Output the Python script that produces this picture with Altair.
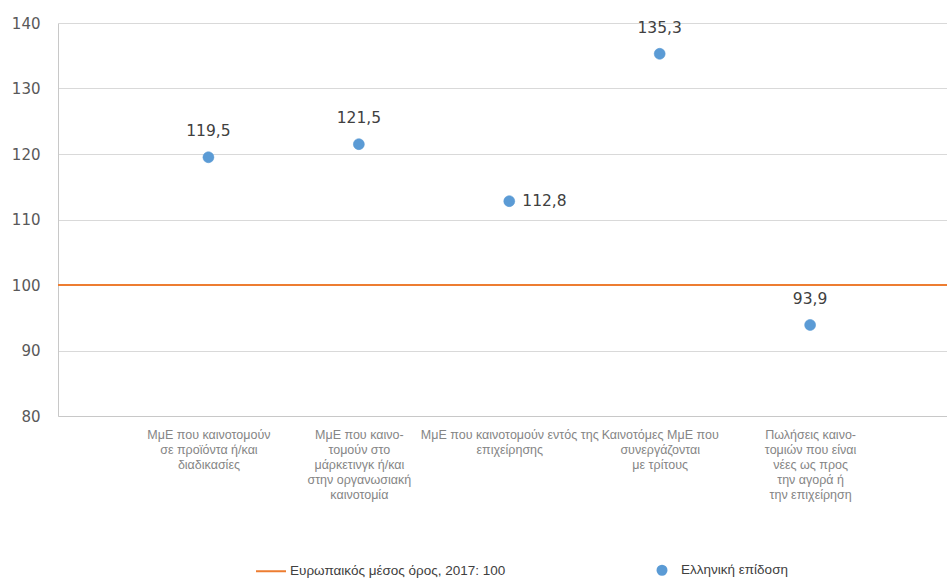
import json
import altair as alt
import pandas as pd

categories = [
    "ΜμΕ που καινοτομούν|σε προϊόντα ή/και|διαδικασίες",
    "ΜμΕ που καινο-|τομούν στο|μάρκετινγκ ή/και|στην οργανωσιακή|καινοτομία",
    "ΜμΕ που καινοτομούν εντός της|επιχείρησης",
    "Καινοτόμες ΜμΕ που|συνεργάζονται|με τρίτους",
    "Πωλήσεις καινο-|τομιών που είναι|νέες ως προς|την αγορά ή|την επιχείρηση",
]
greek_values = [119.5, 121.5, 112.8, 135.3, 93.9]
eu_average = 100
series_names = ["Ευρωπαικός μέσος όρος, 2017: 100", "Ελληνική επίδοση"]
y_ticks = [80, 90, 100, 110, 120, 130, 140]

ORANGE = "#ED7D31"
BLUE = "#5B9BD5"
FONT = "Liberation Sans"
NUM_FONT = "DejaVu Sans"

points = pd.DataFrame({
    "idx": list(range(1, len(categories) + 1)),
    "value": greek_values,
    "label": [f"{v:.1f}".replace(".", ",") for v in greek_values],
    "series": series_names[1],
})
rule_df = pd.DataFrame({"value": [eu_average], "series": [series_names[0]]})

label_array = json.dumps(categories, ensure_ascii=False)

x_enc = alt.X(
    "idx:Q",
    scale=alt.Scale(domain=[0, 5.91], nice=False, zero=False),
    axis=alt.Axis(
        values=list(range(1, len(categories) + 1)),
        labelExpr=f"split({label_array}[datum.value - 1], '|')",
        title=None, grid=False, ticks=False, labelPadding=12,
        labelFontSize=12.5, labelColor="#858585", labelLineHeight=15,
        labelLimit=0, labelFont=FONT, domainColor="#c8c8c8", labelFlush=False,
        labelOverlap=False,
    ),
)
y_scale = alt.Scale(domain=[80, 140], nice=False, zero=False)
y_axis = alt.Axis(
    values=y_ticks, title=None, ticks=False, labelPadding=18,
    labelFontSize=15, labelColor="#595959", labelFont=NUM_FONT,
    gridColor="#d9d9d9", domainColor="#c8c8c8",
)

stroke_scale = alt.Scale(domain=series_names, range=[ORANGE, BLUE])
fill_scale = alt.Scale(domain=series_names, range=[ORANGE, BLUE])
shape_scale = alt.Scale(
    domain=series_names,
    range=["M-1,0H1", "M-0.3,0A0.3,0.3 0 1,1 0.3,0A0.3,0.3 0 1,1 -0.3,0Z"],
)
legend = alt.Legend(
    title=None, orient="none", direction="horizontal", legendX=197, legendY=531,
    labelFontSize=13.5, labelColor="#404040", labelFont=FONT, symbolSize=900,
    symbolStrokeWidth=2, columnPadding=140, labelOffset=3, labelLimit=0,
)

rule = alt.Chart(rule_df).mark_rule(strokeWidth=2).encode(
    y=alt.Y("value:Q", scale=y_scale, axis=y_axis),
    stroke=alt.Stroke("series:N", scale=stroke_scale, legend=legend),
)

pts = alt.Chart(points).mark_point(filled=True, opacity=1, strokeWidth=0.5).encode(
    x=x_enc,
    y=alt.Y("value:Q", scale=y_scale, axis=y_axis),
    fill=alt.Fill("series:N", scale=fill_scale, legend=legend),
    stroke=alt.Stroke("series:N", scale=stroke_scale, legend=legend),
    shape=alt.Shape("series:N", scale=shape_scale, legend=legend),
    size=alt.value(1344),
)

text_style = dict(fontSize=15.5, color="#404040", font=NUM_FONT)
labels_above = alt.Chart(points).transform_filter("datum.idx != 3").mark_text(
    dy=-26, align="center", baseline="middle", **text_style
).encode(x=x_enc, y=alt.Y("value:Q", scale=y_scale, axis=y_axis), text="label:N")
labels_right = alt.Chart(points).transform_filter("datum.idx == 3").mark_text(
    dx=13, align="left", baseline="middle", **text_style
).encode(x=x_enc, y=alt.Y("value:Q", scale=y_scale, axis=y_axis), text="label:N")

chart = alt.layer(rule, pts, labels_above, labels_right).properties(
    width=889, height=393,
    autosize=alt.AutoSizeParams(type="none"),
    padding={"left": 58, "top": 23, "right": 0, "bottom": 165},
    background="white",
).configure_view(stroke=None)

chart.save("out.html", embed_options={"renderer": "svg", "actions": False})
